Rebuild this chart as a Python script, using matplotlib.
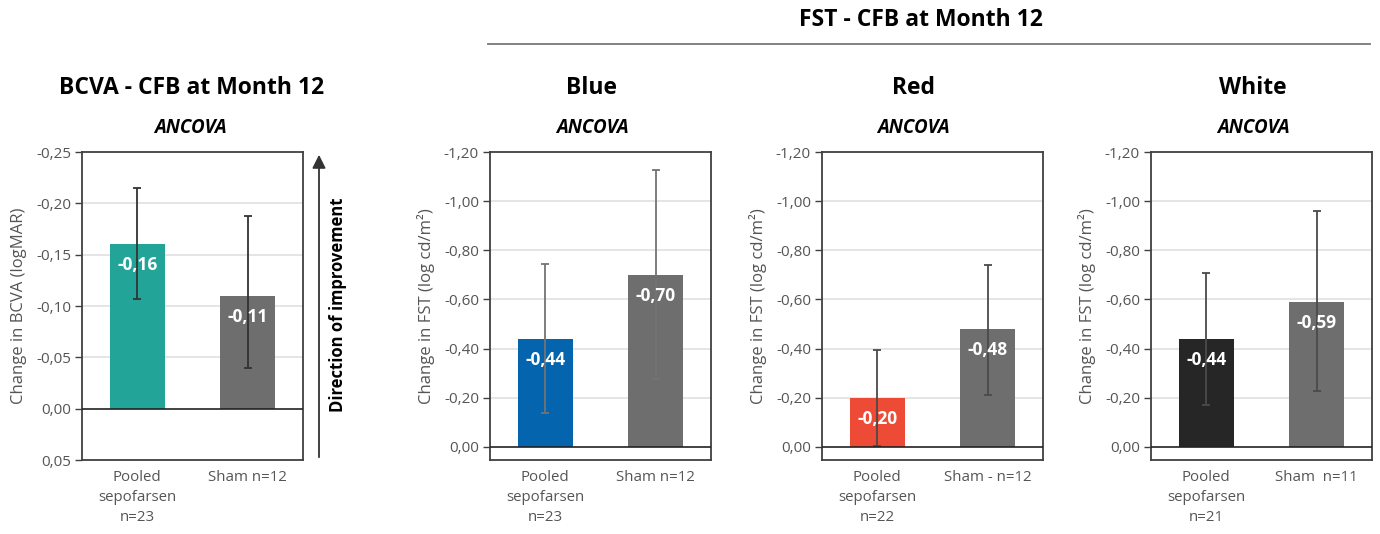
import matplotlib.pyplot as plt
from matplotlib.patches import FancyArrowPatch
from matplotlib.lines import Line2D

plt.rcParams['font.family'] = ['Open Sans', 'DejaVu Sans']

groups = ["Pooled\nsepofarsen\nn=23", "Sham n=12"]

# BCVA change from baseline (logMAR), with CI ends
bcva_values = [-0.16, -0.11]
bcva_ci_low = [-0.107, -0.040]
bcva_ci_high = [-0.215, -0.188]

# FST change from baseline (log cd/m2), one panel per stimulus colour
fst_panels = ["Blue", "Red", "White"]
fst_groups = [
    ["Pooled\nsepofarsen\nn=23", "Sham n=12"],
    ["Pooled\nsepofarsen\nn=22", "Sham - n=12"],
    ["Pooled\nsepofarsen\nn=21", "Sham  n=11"],
]
fst_values = [
    [-0.44, -0.70],
    [-0.20, -0.48],
    [-0.44, -0.59],
]
fst_ci_low = [
    [-0.138, -0.275],
    [-0.005, -0.210],
    [-0.170, -0.226],
]
fst_ci_high = [
    [-0.745, -1.125],
    [-0.393, -0.742],
    [-0.708, -0.962],
]
fst_colors = [
    ["#0465ae", "#6e6e6e"],
    ["#ee4b36", "#6e6e6e"],
    ["#262626", "#6e6e6e"],
]
fst_err_colors = ["#737373", "#4a4a4a", "#4a4a4a"]

W, H = 1380, 534
fig = plt.figure(figsize=(W / 100, H / 100), dpi=100)


def fmt(v):
    return f"{v:.2f}".replace(".", ",")


def px(x, y):
    return x / W, 1 - y / H


def draw_panel(rect, labels, values, lo, hi, colors, err_color, ticks, ylim, ylabel):
    ax = fig.add_axes(rect)
    xs = list(range(len(values)))
    ax.bar(xs, values, width=0.5, color=colors, zorder=2)
    for x, v, l, h in zip(xs, values, lo, hi):
        ax.errorbar(x, v, yerr=[[v - h], [l - v]], fmt="none", ecolor=err_color,
                    elinewidth=1.3, capsize=3, capthick=1.3, zorder=3)
        ax.annotate(fmt(v), (x, v), xytext=(0, -15), textcoords="offset points",
                    ha="center", va="center", color="white", fontsize=12.5,
                    fontweight="bold", zorder=4)
    ax.set_xlim(-0.5, 1.5)
    ax.set_ylim(*ylim)
    ax.set_yticks(ticks)
    ax.set_yticklabels([fmt(t) for t in ticks])
    ax.set_xticks(xs)
    ax.set_xticklabels(labels, linespacing=1.45)
    ax.tick_params(axis="x", length=0, pad=7, labelsize=10.8, colors="#555555")
    ax.tick_params(axis="y", length=5, width=1, color="#404040", labelsize=11,
                   labelcolor="#555555", pad=3)
    for t in ticks:
        if t != 0 and t != ylim[1]:
            ax.axhline(t, color="#e0e0e0", lw=1.2, zorder=1)
    ax.axhline(0, color="#222222", lw=1.2, zorder=3)
    for s in ax.spines.values():
        s.set_color("#404040")
        s.set_linewidth(1.3)
    ax.set_ylabel(ylabel, fontsize=12, color="#555555")
    ax.yaxis.set_label_coords(-0.25, 0.5)
    return ax


top, bottom = 152, 460
ax_h = (bottom - top) / H
ax_b = 1 - bottom / H

# BCVA panel
draw_panel([82 / W, ax_b, 221 / W, ax_h], groups, bcva_values, bcva_ci_low,
           bcva_ci_high, ["#22a598", "#6e6e6e"], "#333333",
           [0.05, 0.0, -0.05, -0.10, -0.15, -0.20, -0.25], (0.05, -0.25),
           "Change in BCVA (logMAR)")
fig.text(*px(192, 88), "BCVA - CFB at Month 12", ha="center", va="center",
         fontsize=16.5, fontweight="bold")
fig.text(*px(190, 128), "ANCOVA", ha="center", va="center", fontsize=13.5,
         fontweight="bold", style="italic")

# direction arrow
fig.add_artist(FancyArrowPatch(px(319, 460), px(319, 152), transform=fig.transFigure,
                               arrowstyle="-|>,head_length=8,head_width=4",
                               color="#333333", lw=1.3))
fig.text(*px(338, 305), "Direction of improvement", rotation=90, ha="center",
         va="center", fontsize=12, fontweight="bold")

# FST panels
fst_left = [490, 822, 1151]
title_x = [592, 913, 1253]
for i, name in enumerate(fst_panels):
    draw_panel([fst_left[i] / W, ax_b, 221 / W, ax_h], fst_groups[i], fst_values[i],
               fst_ci_low[i], fst_ci_high[i], fst_colors[i], fst_err_colors[i],
               [0.0, -0.2, -0.4, -0.6, -0.8, -1.0, -1.2], (0.053, -1.2),
               "Change in FST (log cd/m²)")
    fig.text(*px(title_x[i], 88), name, ha="center", va="center", fontsize=16.5,
             fontweight="bold")
    fig.text(*px(title_x[i], 128), "ANCOVA", ha="center", va="center", fontsize=13.5,
             fontweight="bold", style="italic")

fig.text(*px(921, 20), "FST - CFB at Month 12", ha="center", va="center",
         fontsize=16.5, fontweight="bold")
fig.add_artist(Line2D([488 / W, 1370 / W], [1 - 44 / H] * 2, color="#777777", lw=1.3))

fig.savefig("out.png", dpi=100)
